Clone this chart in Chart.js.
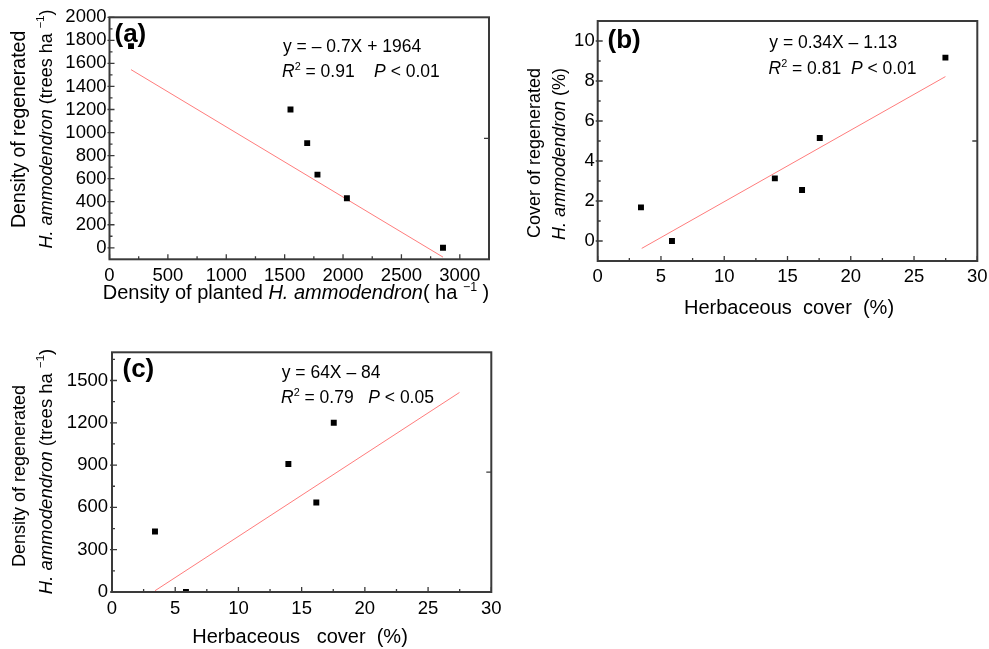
<!DOCTYPE html>
<html>
<head>
<meta charset="utf-8">
<script src="https://cdn.jsdelivr.net/npm/chart.js@4/dist/chart.umd.min.js"></script>
<style>
  html, body { margin:0; padding:0; background:#fff; }
  body { width:989px; height:649px; position:relative; overflow:hidden; }
  canvas { position:absolute; }
</style>
</head>
<body>
<canvas id="ca" width="500" height="320" style="left:0;top:0"></canvas>
<canvas id="cb" width="489" height="320" style="left:500px;top:0"></canvas>
<canvas id="cc" width="520" height="329" style="left:0;top:320px"></canvas>
<script>
// ---------- DATA ----------
// (a) density of planted vs density of regenerated
const A_PLANTED = [184, 1550, 1693, 1781, 2033, 2856];
const A_REGEN   = [1750, 1200, 908, 635, 430, 0];
const A_FIT_X   = [184, 2856];
const A_FIT_Y   = [1546, -81];
const A_X_TICKS = [0, 500, 1000, 1500, 2000, 2500, 3000];
const A_Y_TICKS = [0, 200, 400, 600, 800, 1000, 1200, 1400, 1600, 1800, 2000];

// (b) herbaceous cover vs cover of regenerated
const B_HERB    = [3.42, 5.87, 14.0, 16.15, 17.55, 27.48];
const B_COVER   = [1.68, 0, 3.13, 2.55, 5.15, 9.17];
const B_FIT_X   = [3.48, 27.48];
const B_FIT_Y   = [-0.37, 8.22];
const B_X_TICKS = [0, 5, 10, 15, 20, 25, 30];
const B_Y_TICKS = [0, 2, 4, 6, 8, 10];

// (c) herbaceous cover vs density of regenerated
const C_HERB    = [3.4, 5.85, 13.95, 16.16, 17.54];
const C_DENS    = [429, 0, 908, 635, 1201];
const C_FIT_X   = [3.4, 27.48];
const C_FIT_Y   = [9, 1415];
const C_X_TICKS = [0, 5, 10, 15, 20, 25, 30];
const C_Y_TICKS = [0, 300, 600, 900, 1200, 1500];

// ---------- STYLE ----------
const FAM = '"Liberation Sans", Arial, Helvetica, sans-serif';
const FRAME = '#3a3a3a';
const FIT = '#ff7c7c';
Chart.defaults.font.family = FAM;
Chart.defaults.color = '#000';

function pts(xs, ys) { return xs.map((x, i) => ({ x: x, y: ys[i] })); }

function minors(ticks, min, max) {
  const out = [];
  for (let i = 0; i < ticks.length - 1; i++) out.push((ticks[i] + ticks[i + 1]) / 2);
  const step = ticks[1] - ticks[0];
  const lo = ticks[0] - step / 2, hi = ticks[ticks.length - 1] + step / 2;
  if (lo > min + 1e-9) out.push(lo);
  if (hi < max - 1e-9) out.push(hi);
  return out;
}

function drawRich(ctx, it) {
  const size = it.size;
  const parts = it.segs.map(s => {
    const text = s[0], style = s[1] || '', sup = !!s[2];
    const fs = sup ? size * 0.62 : size;
    const font = (style.indexOf('i') >= 0 ? 'italic ' : '') + (style.indexOf('b') >= 0 ? 'bold ' : '') + fs + 'px ' + FAM;
    ctx.font = font;
    return { text, font, w: ctx.measureText(text).width, dy: sup ? -size * 0.42 : 0 };
  });
  const total = parts.reduce((a, p) => a + p.w, 0);
  ctx.save();
  ctx.translate(it.x, it.y);
  if (it.rot) ctx.rotate(it.rot * Math.PI / 180);
  let x = it.align === 'center' ? -total / 2 : 0;
  ctx.textBaseline = 'alphabetic';
  ctx.textAlign = 'left';
  ctx.fillStyle = '#000';
  for (const p of parts) { ctx.font = p.font; ctx.fillText(p.text, x, p.dy); x += p.w; }
  ctx.restore();
}

const decor = {
  id: 'decor',
  afterDraw(chart, args, o) {
    const ctx = chart.ctx, a = chart.chartArea, xs = chart.scales.x, ys = chart.scales.y;
    ctx.save();
    ctx.strokeStyle = FRAME;
    ctx.lineWidth = 2;
    ctx.strokeRect(a.left, a.top, a.right - a.left, a.bottom - a.top);
    ctx.lineWidth = 1.3;
    ctx.beginPath();
    const xt = o.xTicks, yt = o.yTicks;
    xt.forEach(v => { const p = xs.getPixelForValue(v); ctx.moveTo(p, a.bottom); ctx.lineTo(p, a.bottom - 5); });
    minors(xt, xs.min, xs.max).forEach(v => { const p = xs.getPixelForValue(v); ctx.moveTo(p, a.bottom); ctx.lineTo(p, a.bottom - 3); });
    yt.forEach(v => { const p = ys.getPixelForValue(v); ctx.moveTo(a.left - 2, p); ctx.lineTo(a.left + 5, p); });
    minors(yt, ys.min, ys.max).forEach(v => { const p = ys.getPixelForValue(v); ctx.moveTo(a.left, p); ctx.lineTo(a.left + 3, p); });
    const mid = ys.getPixelForValue((ys.min + ys.max) / 2);
    ctx.moveTo(a.right, mid); ctx.lineTo(a.right - 5, mid);
    ctx.stroke();
    ctx.restore();
    (o.texts || []).forEach(t => drawRich(ctx, t));
  }
};

function makeChart(id, d) {
  const W = d.w, H = d.h, A = d.area;
  return new Chart(document.getElementById(id), {
    type: 'scatter',
    data: {
      datasets: [
        { type: 'line', data: d.fit, borderColor: FIT, borderWidth: 1, pointRadius: 0, fill: false, order: 2 },
        { data: d.pts, pointStyle: 'rect', pointRadius: 4.2, pointBackgroundColor: '#000', pointBorderWidth: 0, order: 1 }
      ]
    },
    options: {
      responsive: false, animation: false, devicePixelRatio: 1,
      layout: { padding: { left: 0, top: A.top, right: W - A.right, bottom: 0 } },
      plugins: { legend: { display: false }, tooltip: { enabled: false }, decor: { xTicks: d.xTicks, yTicks: d.yTicks, texts: d.texts } },
      scales: {
        x: {
          type: 'linear', min: d.xMin, max: d.xMax,
          grid: { display: false, drawTicks: false }, border: { display: false },
          ticks: { font: { size: 18.5 }, color: '#000', padding: d.xPad, maxRotation: 0, autoSkip: false, callback: v => String(v) },
          afterBuildTicks: s => { s.ticks = d.xTicks.map(v => ({ value: v })); },
          afterFit: s => { s.height = H - A.bottom; s.paddingLeft = 0; s.paddingRight = 0; }
        },
        y: {
          type: 'linear', min: d.yMin, max: d.yMax,
          grid: { display: false, drawTicks: false }, border: { display: false },
          ticks: { font: { size: 18.5 }, color: '#000', padding: d.yPad, autoSkip: false, callback: v => String(v) },
          afterBuildTicks: s => { s.ticks = d.yTicks.map(v => ({ value: v })); },
          afterFit: s => { s.width = A.left; s.paddingTop = 0; s.paddingBottom = 0; }
        }
      }
    },
    plugins: [decor]
  });
}

const ANN = 17.5, TT = 20;
const SUPM = '\u2212' + '1';

makeChart('ca', {
  w: 500, h: 320, area: { left: 109.5, right: 489, top: 17.3, bottom: 259.3 },
  xMin: 0, xMax: 3250, yMin: -100, yMax: 2000, xPad: 6, yPad: 3,
  xTicks: A_X_TICKS, yTicks: A_Y_TICKS,
  pts: pts(A_PLANTED, A_REGEN), fit: pts(A_FIT_X, A_FIT_Y),
  texts: [
    { x: 114.5, y: 41.5, size: 26, segs: [['(a)', 'b']] },
    { x: 283, y: 52, size: ANN, segs: [['y = \u2013 0.7X + 1964']] },
    { x: 282, y: 77, size: ANN, segs: [['R', 'i'], ['2', '', true], [' = 0.91    '], ['P', 'i'], [' < 0.01']] },
    { x: 296, y: 299, size: TT, align: 'center', segs: [['Density of planted '], ['H. ammodendron', 'i'], ['( ha '], [SUPM, '', true], [' )']] },
    { x: 25.4, y: 129.4, size: 19.5, rot: -90, align: 'center', segs: [['Density of regenerated']] },
    { x: 52, y: 129, size: 18, rot: -90, align: 'center', segs: [['H. ammodendron', 'i'], [' (trees ha '], [SUPM, '', true], [')']] }
  ]
});

makeChart('cb', {
  w: 489, h: 320, area: { left: 97.7, right: 477.3, top: 21, bottom: 261 },
  xMin: 0, xMax: 30, yMin: -1, yMax: 11, xPad: 5, yPad: 3,
  xTicks: B_X_TICKS, yTicks: B_Y_TICKS,
  pts: pts(B_HERB, B_COVER), fit: pts(B_FIT_X, B_FIT_Y),
  texts: [
    { x: 107.5, y: 48, size: 26, segs: [['(b)', 'b']] },
    { x: 269.3, y: 48, size: ANN, segs: [['y = 0.34X \u2013 1.13']] },
    { x: 268.5, y: 74, size: ANN, segs: [['R', 'i'], ['2', '', true], [' = 0.81  '], ['P', 'i'], [' < 0.01']] },
    { x: 289, y: 314, size: TT, align: 'center', segs: [['Herbaceous  cover  (%)']] },
    { x: 39.5, y: 153, size: 18, rot: -90, align: 'center', segs: [['Cover of regenerated']] },
    { x: 65, y: 154, size: 18, rot: -90, align: 'center', segs: [['H. ammodendron', 'i'], [' (%)']] }
  ]
});

makeChart('cc', {
  w: 520, h: 329, area: { left: 112, right: 491.3, top: 32.3, bottom: 272 },
  xMin: 0, xMax: 30, yMin: 0, yMax: 1700, xPad: 6, yPad: 4,
  xTicks: C_X_TICKS, yTicks: C_Y_TICKS,
  pts: pts(C_HERB, C_DENS), fit: pts(C_FIT_X, C_FIT_Y),
  texts: [
    { x: 122.5, y: 57.3, size: 26, segs: [['(c)', 'b']] },
    { x: 281.7, y: 58.3, size: ANN, segs: [['y = 64X \u2013 84']] },
    { x: 281, y: 83.3, size: ANN, segs: [['R', 'i'], ['2', '', true], [' = 0.79   '], ['P', 'i'], [' < 0.05']] },
    { x: 300, y: 323, size: TT, align: 'center', segs: [['Herbaceous   cover  (%)']] },
    { x: 25, y: 156, size: 18, rot: -90, align: 'center', segs: [['Density of regenerated']] },
    { x: 52, y: 151.5, size: 18.5, rot: -90, align: 'center', segs: [['H. ammodendron', 'i'], [' (trees ha '], [SUPM, '', true], [')']] }
  ]
});
</script>
</body>
</html>
